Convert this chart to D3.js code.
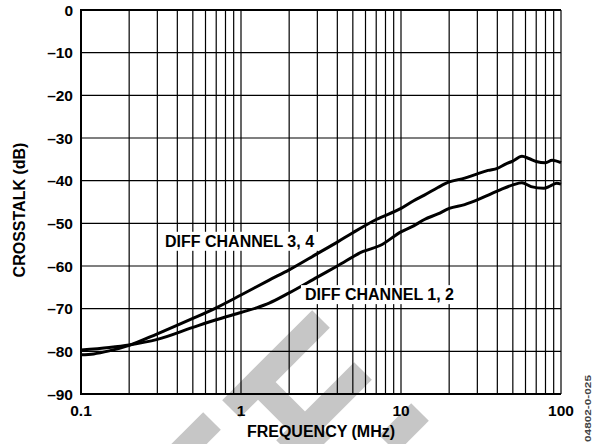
<!DOCTYPE html>
<html>
<head>
<meta charset="utf-8">
<script src="https://cdn.jsdelivr.net/npm/d3@7/dist/d3.min.js"></script>
<style>
body { margin: 0; background: #fff; }
text { font-family: Arial, "Liberation Sans", sans-serif; font-weight: bold; }
</style>
</head>
<body>
<div id="chart"></div>
<script>
// Data

// DIFF CHANNEL 3, 4
var freq34 = [0.1, 0.12, 0.15, 0.2, 0.3, 0.5, 0.7, 1, 1.5, 2, 3, 4, 5, 7, 10, 12, 14, 17, 20, 25, 30, 35, 40, 45, 50, 57, 63, 70, 80, 88, 100]
var db34 = [-80.8, -80.6, -79.9, -78.6, -75.9, -72.3, -69.8, -66.8, -63.3, -60.9, -57.1, -54.4, -52.2, -49.1, -46.5, -44.7, -43.4, -41.6, -40.3, -39.4, -38.4, -37.6, -37.1, -36.1, -35.4, -34.3, -34.8, -35.5, -35.8, -35.2, -35.8]

// DIFF CHANNEL 1, 2
var freq12 = [0.1, 0.15, 0.2, 0.3, 0.5, 0.7, 1, 1.25, 1.5, 2, 3, 4, 5.8, 7.4, 10, 12, 14, 17, 20, 25, 30, 36, 42, 50, 57, 65, 78, 86, 94, 100]
var db12 = [-79.7, -79.1, -78.5, -77.2, -74.4, -72.6, -70.9, -69.8, -68.7, -66.3, -62.6, -60.0, -56.6, -55.2, -52.0, -50.6, -49.1, -47.8, -46.5, -45.6, -44.5, -43.2, -42.1, -41.0, -40.5, -41.4, -41.8, -41.2, -40.6, -40.8]

var xTicks = [0.1, 1, 10, 100]
var xTickLabels = ['0.1', '1', '10', '100']
var yTicks = [0, -10, -20, -30, -40, -50, -60, -70, -80, -90]

var settings = {}
settings.width = 592
settings.height = 444
settings.left = 81
settings.right = 561
settings.top = 10
settings.bottom = 394

var svg = d3.select('#chart').append('svg')
  .attr('width', settings.width)
  .attr('height', settings.height)

var x = d3.scaleLog().domain([0.1, 100]).range([settings.left, settings.right])
var y = d3.scaleLinear().domain([-90, 0]).range([settings.bottom, settings.top])

// Gray watermark bands (behind the grid)
var bands = [
  [321, 319, 231, 409],
  [212, 421, 180, 453],
  [363, 371, 285, 449],
  [262, 386, 322, 446],
  [420, 412, 388, 444]
]
bands.forEach(function(b){
  svg.append('line')
    .attr('x1', b[0]).attr('y1', b[1])
    .attr('x2', b[2]).attr('y2', b[3])
    .attr('stroke', '#c6c6c6')
    .attr('stroke-width', 25)
})

// Vertical grid: every 1..9 of each decade
var minor = []
;[0.1, 1, 10].forEach(function(d){
  for (var k = 1; k <= 9; k++) minor.push(d * k)
})
minor.push(100)

svg.append('g').selectAll('line').data(minor).enter().append('line')
  .attr('x1', function(d){ return x(d) })
  .attr('x2', function(d){ return x(d) })
  .attr('y1', settings.top)
  .attr('y2', settings.bottom)
  .attr('stroke', '#000')
  .attr('stroke-width', 1.2)

svg.append('g').selectAll('line').data(yTicks).enter().append('line')
  .attr('x1', settings.left)
  .attr('x2', settings.right)
  .attr('y1', function(d){ return y(d) })
  .attr('y2', function(d){ return y(d) })
  .attr('stroke', '#000')
  .attr('stroke-width', 1.2)

// Frame (left / bottom / top thicker)
svg.append('path')
  .attr('d', 'M' + settings.right + ',' + settings.top + 'H' + settings.left + 'V' + settings.bottom + 'H' + settings.right)
  .attr('fill', 'none')
  .attr('stroke', '#000')
  .attr('stroke-width', 2)

// Tick labels
svg.append('g').selectAll('text').data(yTicks).enter().append('text')
  .attr('x', settings.left - 8)
  .attr('y', function(d){ return y(d) })
  .attr('dy', '0.36em')
  .attr('text-anchor', 'end')
  .attr('font-size', 15.5)
  .text(function(d){ return d === 0 ? '0' : '\u2013' + Math.abs(d) })

svg.append('g').selectAll('text').data(xTicks).enter().append('text')
  .attr('x', function(d){ return x(d) })
  .attr('y', settings.bottom + 22)
  .attr('text-anchor', 'middle')
  .attr('font-size', 15.5)
  .text(function(d, i){ return xTickLabels[i] })

// Axis titles
svg.append('text')
  .attr('x', (settings.left + settings.right) / 2)
  .attr('y', 437)
  .attr('text-anchor', 'middle')
  .attr('font-size', 16)
  .text('FREQUENCY (MHz)')

svg.append('text')
  .attr('transform', 'translate(25,210) rotate(-90)')
  .attr('text-anchor', 'middle')
  .attr('font-size', 16)
  .text('CROSSTALK (dB)')

// Curves
var line = d3.line()
  .x(function(d){ return x(d[0]) })
  .y(function(d){ return y(d[1]) })
  .curve(d3.curveMonotoneX)

function drawCurve(fs, dbs){
  svg.append('path')
    .datum(d3.zip(fs, dbs))
    .attr('d', line)
    .attr('fill', 'none')
    .attr('stroke', '#000')
    .attr('stroke-width', 3)
    .attr('stroke-linejoin', 'round')
}
drawCurve(freq34, db34)
drawCurve(freq12, db12)

// Curve labels on white boxes
function drawLabel(txt, f, db){
  var g = svg.append('g')
  var t = g.append('text')
    .attr('x', x(f))
    .attr('y', y(db))
    .attr('font-size', 16)
    .text(txt)
  var bb = t.node().getBBox()
  g.insert('rect', 'text')
    .attr('x', bb.x - 4)
    .attr('y', bb.y - 1)
    .attr('width', bb.width + 8)
    .attr('height', bb.height + 2)
    .attr('fill', '#fff')
}
drawLabel('DIFF CHANNEL 3, 4', 0.335, -55.5)
drawLabel('DIFF CHANNEL 1, 2', 2.51, -68)

// Figure code on the right edge
svg.append('text')
  .attr('transform', 'translate(591,442) rotate(-90)')
  .attr('font-size', 9)
  .attr('font-weight', 'normal')
  .attr('fill', '#444')
  .attr('textLength', 67)
  .attr('lengthAdjust', 'spacingAndGlyphs')
  .text('04802-0-025')
</script>
</body>
</html>
